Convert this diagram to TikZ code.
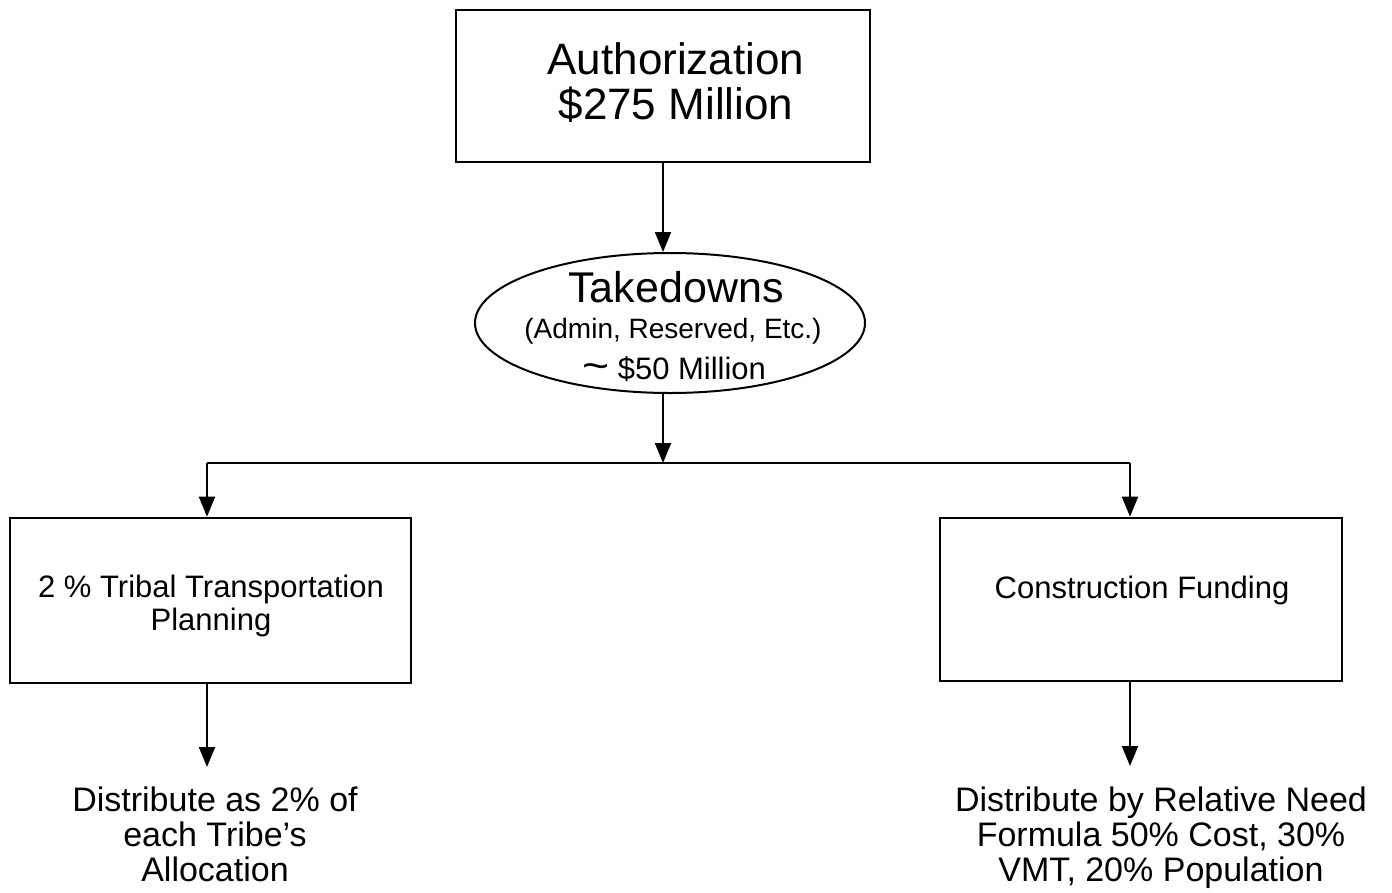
\documentclass[tikz,border=0pt]{standalone}
\usepackage{fontspec}
\setmainfont{Liberation Sans}
\usetikzlibrary{shapes.geometric,arrows.meta}
\begin{document}
\begin{tikzpicture}[x=1pt,y=-1pt,
  box/.style={draw, rectangle, line width=2.6pt, inner sep=0pt},
  oval/.style={draw, ellipse, line width=2pt, inner sep=0pt},
  txt/.style={inner sep=0pt, align=center},
  arr/.style={line width=2pt, -{Triangle[length=20pt,width=16pt]}},
  bar/.style={line width=2.6pt}]
\useasboundingbox (0,0) rectangle (1392,892);
% boxes
\node[box, minimum width=414pt, minimum height=152pt] (auth) at (663,86) {};
\node[txt, font=\fontsize{44}{45}\selectfont] (authT) at (676,83) {Authorization\\\$275 Million};
\node[oval, minimum width=390pt, minimum height=140pt] (take) at (670,323) {};
\node[txt, anchor=base, font=\fontsize{43}{43}\selectfont] (tk1) at (676,302) {Takedowns};
\node[txt, anchor=base, font=\fontsize{28}{28}\selectfont] (tk2) at (673,338) {(Admin, Reserved, Etc.)};
\node[txt, anchor=base, font=\fontsize{31}{31}\selectfont] (tk3) at (674,379) {\scalebox{1.5}[1.3]{\textasciitilde}\ \$50 Million};
\node[box, minimum width=401pt, minimum height=165pt] (plan) at (210.5,600.5) {};
\node[txt, font=\fontsize{31}{33}\selectfont] (planT) at (211,605.5) {2 \% Tribal Transportation\\Planning};
\node[box, minimum width=402pt, minimum height=163pt] (cons) at (1141,599.5) {};
\node[txt, anchor=base, font=\fontsize{31}{31}\selectfont] (consT) at (1142,598) {Construction Funding};
\node[txt, font=\fontsize{34}{35}\selectfont] (dist1) at (215,834) {Distribute as 2\% of\\each Tribe’s\\Allocation};
\node[txt, font=\fontsize{34}{35}\selectfont] (dist2) at (1161,837.5) {Distribute by Relative Need\\Formula 50\% Cost, 30\%\\VMT, 20\% Population};
% connector points
\coordinate (j) at (663,463);
\coordinate (lc) at (207,463);
\coordinate (rc) at (1130,463);
\coordinate (e1) at (207,767);
\coordinate (e2) at (1130,766);
% connectors
\draw[arr] (auth.south) -- (auth.south |- take.north);
\draw[arr] (auth.south |- take.south) -- (j);
\draw[bar] (lc) -- (rc);
\draw[arr] (lc) -- (lc |- plan.north);
\draw[arr] (rc) -- (rc |- cons.north);
\draw[arr] (e1 |- plan.south) -- (e1);
\draw[arr] (e2 |- cons.south) -- (e2);
\end{tikzpicture}
\end{document}
